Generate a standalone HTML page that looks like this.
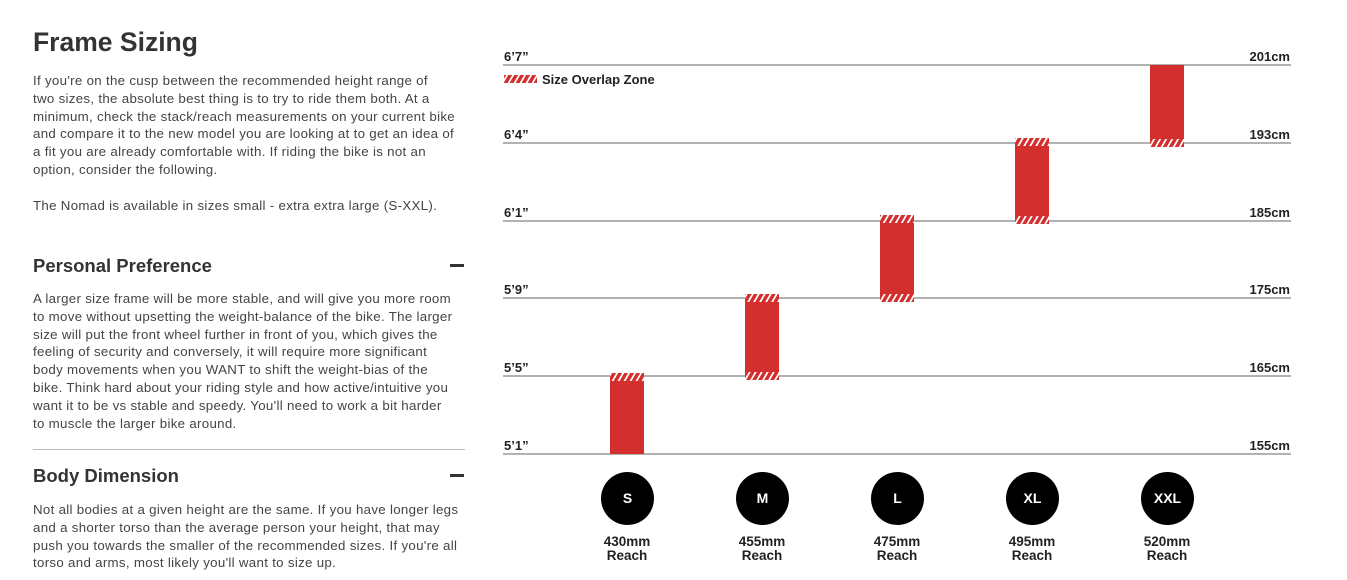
<!DOCTYPE html>
<html><head><meta charset="utf-8"><style>
body{margin:0;width:1347px;height:580px;background:#fff;overflow:hidden;font-family:"Liberation Sans",sans-serif;color:#333;position:relative}
.a{position:absolute;white-space:nowrap}
.p{font-size:13.3px;line-height:17.8px;color:#444;letter-spacing:0.3px}
h1{position:absolute;left:33px;top:27px;margin:0;font-size:26.5px;font-weight:bold;color:#333}
.h{position:absolute;left:33px;font-size:18.5px;font-weight:bold;color:#333}
.m{position:absolute;left:450px;width:14px;height:2.5px;background:#333}
.lbl{font-size:13px;font-weight:bold;color:#222}
.rt{text-align:right;width:80px}
.c{position:absolute;width:53px;height:53px;border-radius:50%;background:#000;color:#fff;font-weight:bold;font-size:14px;line-height:53px;text-align:center}
.r{position:absolute;width:100px;text-align:center;font-weight:bold;font-size:13.5px;line-height:14px;color:#222}
</style></head><body>
<h1>Frame Sizing</h1>
<div class="a p" style="left:33px;top:72px">If you're on the cusp between the recommended height range of<br>two sizes, the absolute best thing is to try to ride them both. At a<br>minimum, check the stack/reach measurements on your current bike<br>and compare it to the new model you are looking at to get an idea of<br>a fit you are already comfortable with. If riding the bike is not an<br>option, consider the following.<br><br>The Nomad is available in sizes small - extra extra large (S-XXL).</div>
<div class="h" style="top:255px">Personal Preference</div><div class="m" style="top:264px"></div>
<div class="a p" style="left:33px;top:290px">A larger size frame will be more stable, and will give you more room<br>to move without upsetting the weight-balance of the bike. The larger<br>size will put the front wheel further in front of you, which gives the<br>feeling of security and conversely, it will require more significant<br>body movements when you WANT to shift the weight-bias of the<br>bike. Think hard about your riding style and how active/intuitive you<br>want it to be vs stable and speedy. You'll need to work a bit harder<br>to muscle the larger bike around.</div>
<div class="a" style="left:33px;top:449px;width:432px;height:1px;background:#bbb"></div>
<div class="h" style="top:465px">Body Dimension</div><div class="m" style="top:474px"></div>
<div class="a p" style="left:33px;top:501px">Not all bodies at a given height are the same. If you have longer legs<br>and a shorter torso than the average person your height, that may<br>push you towards the smaller of the recommended sizes. If you're all<br>torso and arms, most likely you'll want to size up.</div>

<svg class="a" style="left:0;top:0" width="1347" height="580">
<defs><pattern id="hp" width="6" height="8" patternUnits="userSpaceOnUse" patternTransform="skewX(-30)"><rect width="6" height="8" fill="#d32f2f"/><rect x="3.5" width="2" height="8" fill="#fff"/></pattern></defs>
<g stroke="#999" stroke-width="1.5">
<line x1="503" x2="1291" y1="65" y2="65"/><line x1="503" x2="1291" y1="143" y2="143"/><line x1="503" x2="1291" y1="221" y2="221"/><line x1="503" x2="1291" y1="298" y2="298"/><line x1="503" x2="1291" y1="376" y2="376"/><line x1="503" x2="1291" y1="454" y2="454"/>
</g>
<g fill="#d32f2f">
<rect x="610" y="373" width="34" height="81"/>
<rect x="745" y="294" width="34" height="86"/>
<rect x="880" y="215" width="34" height="87"/>
<rect x="1015" y="138" width="34" height="86"/>
<rect x="1150" y="65" width="34" height="82"/>
</g>
<g fill="url(#hp)">
<rect x="610" y="373" width="34" height="8"/>
<rect x="745" y="294" width="34" height="8"/><rect x="745" y="372" width="34" height="8"/>
<rect x="880" y="215" width="34" height="8"/><rect x="880" y="294" width="34" height="8"/>
<rect x="1015" y="138" width="34" height="8"/><rect x="1015" y="216" width="34" height="8"/>
<rect x="1150" y="139" width="34" height="8"/>
<rect x="504" y="75" width="33" height="8"/>
</g>
</svg>
<div class="a lbl" style="left:542px;top:72px">Size Overlap Zone</div>
<div class="a lbl" style="left:504px;top:49px">6’7”</div><div class="a lbl rt" style="left:1210px;top:49px">201cm</div>
<div class="a lbl" style="left:504px;top:127px">6’4”</div><div class="a lbl rt" style="left:1210px;top:127px">193cm</div>
<div class="a lbl" style="left:504px;top:205px">6’1”</div><div class="a lbl rt" style="left:1210px;top:205px">185cm</div>
<div class="a lbl" style="left:504px;top:282px">5’9”</div><div class="a lbl rt" style="left:1210px;top:282px">175cm</div>
<div class="a lbl" style="left:504px;top:360px">5’5”</div><div class="a lbl rt" style="left:1210px;top:360px">165cm</div>
<div class="a lbl" style="left:504px;top:438px">5’1”</div><div class="a lbl rt" style="left:1210px;top:438px">155cm</div>
<div class="c" style="left:601px;top:472px">S</div>
<div class="c" style="left:736px;top:472px">M</div>
<div class="c" style="left:871px;top:472px">L</div>
<div class="c" style="left:1006px;top:472px">XL</div>
<div class="c" style="left:1141px;top:472px">XXL</div>
<div class="r" style="left:577px;top:535px">430mm<br>Reach</div>
<div class="r" style="left:712px;top:535px">455mm<br>Reach</div>
<div class="r" style="left:847px;top:535px">475mm<br>Reach</div>
<div class="r" style="left:982px;top:535px">495mm<br>Reach</div>
<div class="r" style="left:1117px;top:535px">520mm<br>Reach</div>
</body></html>
